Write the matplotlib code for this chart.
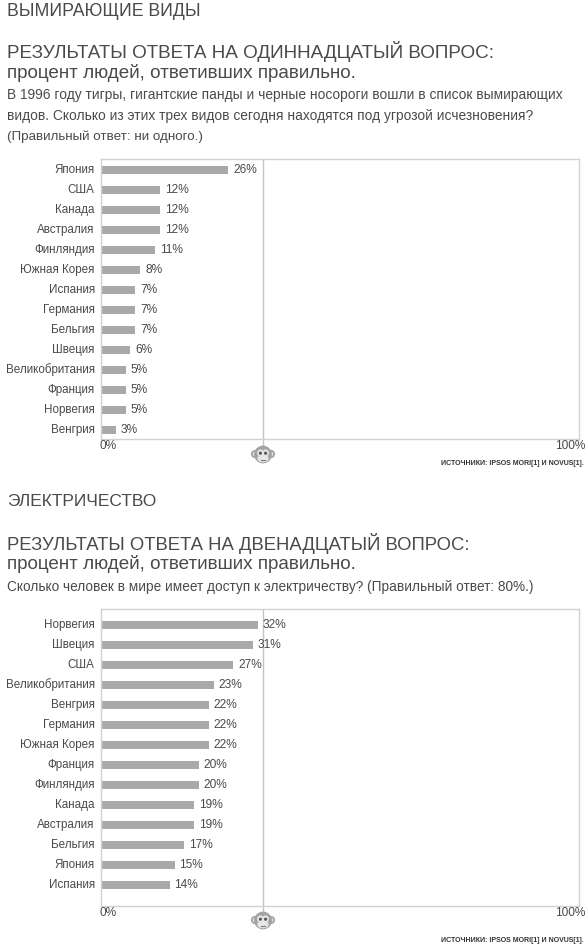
import matplotlib
matplotlib.use("Agg")
import matplotlib.pyplot as plt
from matplotlib.patches import Circle, Ellipse

plt.rcParams['font.family'] = ['Liberation Sans', 'DejaVu Sans']

# --- data ---
countries1 = ['Япония', 'США', 'Канада', 'Австралия', 'Финляндия', 'Южная Корея',
              'Испания', 'Германия', 'Бельгия', 'Швеция', 'Великобритания',
              'Франция', 'Норвегия', 'Венгрия']
values1 = [26, 12, 12, 12, 11, 8, 7, 7, 7, 6, 5, 5, 5, 3]

countries2 = ['Норвегия', 'Швеция', 'США', 'Великобритания', 'Венгрия', 'Германия',
              'Южная Корея', 'Франция', 'Финляндия', 'Канада', 'Австралия',
              'Бельгия', 'Япония', 'Испания']
values2 = [32, 31, 27, 23, 22, 22, 22, 20, 20, 19, 19, 17, 15, 14]

chimp_guess = 33  # random-pick line

section1 = 'ВЫМИРАЮЩИЕ ВИДЫ'
title1 = 'РЕЗУЛЬТАТЫ ОТВЕТА НА ОДИННАДЦАТЫЙ ВОПРОС:'
sub1 = 'процент людей, ответивших правильно.'
question1 = ['В 1996 году тигры, гигантские панды и черные носороги вошли в список вымирающих',
             'видов. Сколько из этих трех видов сегодня находятся под угрозой исчезновения?',
             '(Правильный ответ: ни одного.)']

section2 = 'ЭЛЕКТРИЧЕСТВО'
title2 = 'РЕЗУЛЬТАТЫ ОТВЕТА НА ДВЕНАДЦАТЫЙ ВОПРОС:'
sub2 = 'процент людей, ответивших правильно.'
question2 = ['Сколько человек в мире имеет доступ к электричеству? (Правильный ответ: 80%.)']

source = 'ИСТОЧНИКИ: IPSOS MORI[1] И NOVUS[1].'

W, H = 588, 951
TXT = '#4a4a4a'
BAR = '#a9a9a9'
EDGE = '#d2d2d2'

fig = plt.figure(figsize=(W / 100, H / 100), dpi=100)
fig.patch.set_facecolor('white')
renderer = fig.canvas.get_renderer()


def put(x, y, s, size, width=None, ha='left', **kw):
    kw.setdefault('color', TXT)
    t = fig.text(x / W, 1 - y / H, s, fontsize=size, va='center', ha=ha, **kw)
    if width:
        w = t.get_window_extent(renderer).width
        t.set_fontsize(size * width / w)
    return t


def chimp(cx, cy):
    ax = fig.add_axes([(cx - 13) / W, 1 - (cy + 11) / H, 26 / W, 22 / H])
    ax.set_xlim(-1.3, 1.3)
    ax.set_ylim(-1.1, 1.1)
    ax.axis('off')
    g = '#a3a3a3'
    for sx in (-1, 1):
        ax.add_patch(Circle((0.8 * sx, 0.1), 0.34, color=g))
        ax.add_patch(Circle((0.8 * sx, 0.1), 0.17, color='#dcdcdc'))
    ax.add_patch(Circle((0, 0.05), 0.82, color=g))
    ax.add_patch(Ellipse((-0.26, 0.2), 0.52, 0.58, color='#e6e6e6'))
    ax.add_patch(Ellipse((0.26, 0.2), 0.52, 0.58, color='#e6e6e6'))
    ax.add_patch(Ellipse((0, -0.35), 1.0, 0.62, color='#e6e6e6'))
    ax.add_patch(Circle((-0.26, 0.18), 0.09, color='#5a5a5a'))
    ax.add_patch(Circle((0.26, 0.18), 0.09, color='#5a5a5a'))
    ax.plot([-0.2, 0.2], [-0.45, -0.45], color='#7a7a7a', lw=0.8)


def panel(countries, values, top, bottom, row0, rows_end, zero_y, chimp_y, src_y):
    left, right = 101, 579
    ax = fig.add_axes([left / W, 1 - bottom / H, (right - left) / W, (bottom - top) / H])
    n = len(values)
    step = (rows_end - row0) / (n - 1)
    y = list(range(n))
    ax.barh(y, values, height=8 / step, color=BAR, zorder=2)
    ax.set_xlim(0, (right - left) / 4.9)
    ax.set_ylim(n - 1 + (bottom - rows_end) / step, -(row0 - top) / step)
    for i, (c, v) in enumerate(zip(countries, values)):
        ax.annotate(f'{v}%', (v, i), xytext=(3.5, 0), textcoords='offset points',
                    va='center', ha='left', fontsize=8.6, color=TXT)
        ax.annotate(c, (0, i), xytext=(-4.5, 0), textcoords='offset points',
                    va='center', ha='right', fontsize=8.4, color=TXT,
                    annotation_clip=False)
    ax.set_xticks([])
    ax.set_yticks([])
    for s in ax.spines.values():
        s.set_color(EDGE)
        s.set_linewidth(1.0)
    ax.axvline(chimp_guess, color='#c4c4c4', lw=1.0, zorder=1)
    # line runs down to the chimp icon
    ax.plot([chimp_guess, chimp_guess], [ax.get_ylim()[0], ax.get_ylim()[0] + (chimp_y - 8 - bottom) / step],
            color='#c4c4c4', lw=1.0, clip_on=False)
    put(99, zero_y, '0%', 8.6)
    put(585, zero_y, '100%', 8.6, ha='right')
    chimp(263, chimp_y)
    put(584, src_y, source, 6, width=142, ha='right', color='#333333', fontweight='bold')


# section 1
put(7, 11, section1, 12.5, width=192)
put(7, 51, title1, 12.5, width=490)
put(7, 73, sub1, 12.5, width=352)
put(7, 95, question1[0], 9.3, width=550)
put(7, 116, question1[1], 9.3, width=521)
put(7, 137, question1[2], 9.3, width=196)
panel(countries1, values1, 159, 439, 170, 430, 446, 455, 463)

# section 2
put(7, 501, section2, 12.5, width=149)
put(7, 543, title2, 12.5, width=462)
put(7, 564, sub2, 12.5, width=352)
put(7, 587, question2[0], 9.3, width=521)
panel(countries2, values2, 609, 906, 625, 885, 913, 921, 941)

fig.savefig('out.png', dpi=100, facecolor='white')
